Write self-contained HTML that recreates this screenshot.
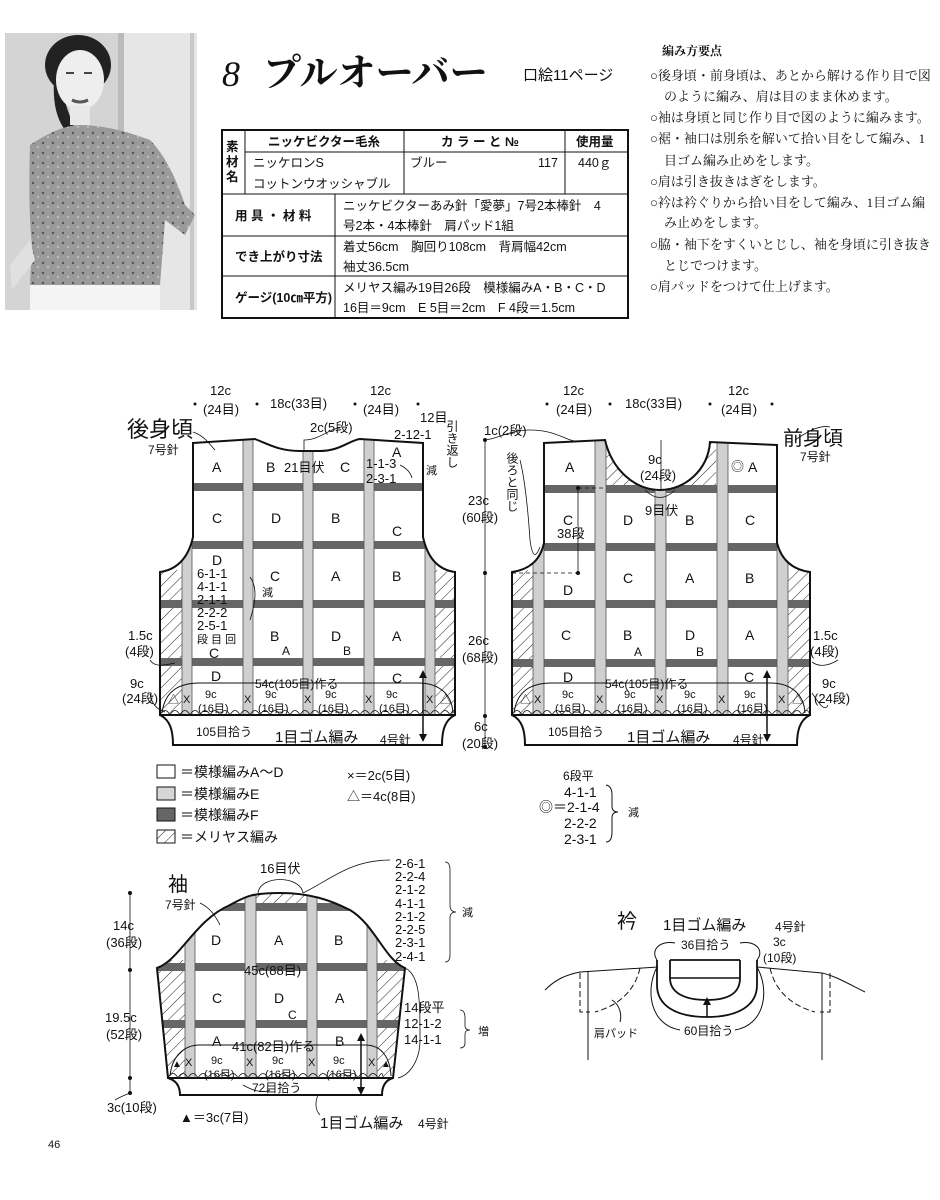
<!DOCTYPE html>
<html><head><meta charset="utf-8">
<style>
body{margin:0;background:#fff;}
svg{display:block}
.s{font-family:"Liberation Sans","Noto Sans CJK JP",sans-serif;fill:#111}
.r{font-family:"Liberation Serif","Noto Serif CJK SC",serif;fill:#111}
</style></head><body>
<svg width="940" height="1200" viewBox="0 0 940 1200" xmlns="http://www.w3.org/2000/svg">
<defs>
<pattern id="h" width="8" height="8" patternUnits="userSpaceOnUse" patternTransform="rotate(45)"><line x1="0" y1="0" x2="0" y2="8" stroke="#222" stroke-width="1"/></pattern>
<pattern id="k" width="10" height="10" patternUnits="userSpaceOnUse"><rect width="10" height="10" fill="#9a9a9a"/><circle cx="3" cy="3" r="1.2" fill="#555"/><circle cx="8" cy="7" r="1.2" fill="#bbb"/></pattern>
<clipPath id="cb"><path d="M193,443 L255,439 C270,445 280,451 300,451 L320,451 C340,451 350,440 360,439 L423,443 L423,537 C428,560 440,570 455,572 L455,715 L160,715 L160,572 C175,570 188,560 193,537 Z"/></clipPath>
<clipPath id="cf"><path d="M544,443 L605,440 C612,470 635,490 660,490 C685,490 708,470 710,442 L777,445 L777,543 C782,562 795,570 810,572 L810,715 L512,715 L512,572 C527,570 540,562 544,543 Z"/></clipPath>
<clipPath id="cs"><path d="M157,968 C180,960 195,920 230,905 C245,897 250,893 280,893 C310,893 330,900 350,910 C375,925 385,960 405,968 L393,1078 L168,1078 Z"/></clipPath>
</defs>
<rect width="940" height="1200" fill="#fff"/>

<!-- photo -->
<rect x="5" y="33" width="192" height="277" fill="#d4d4d4"/>
<rect x="120" y="33" width="77" height="277" fill="#e6e6e6"/>
<rect x="118" y="33" width="6" height="140" fill="#bbb"/>
<rect x="190" y="33" width="4" height="277" fill="#c8c8c8"/>
<ellipse cx="78" cy="65" rx="33" ry="30" fill="#222"/>
<path d="M55,70 Q50,110 65,130 L75,128 Q62,100 62,80Z" fill="#222"/>
<ellipse cx="80" cy="80" rx="24" ry="30" fill="#eee"/>
<path d="M66,73 h8 M84,73 h8" stroke="#444" stroke-width="2"/>
<path d="M72,100 Q80,104 88,100" stroke="#555" stroke-width="3" fill="none"/>
<rect x="70" y="105" width="20" height="20" fill="#e8e8e8"/>
<path d="M30,145 Q60,125 80,125 Q110,125 150,140 Q170,160 185,205 L195,215 L185,235 L165,220 L160,285 L30,285 L32,245 Q28,210 30,145Z" fill="url(#k)"/>
<path d="M30,240 L10,265 L12,290 L35,260Z" fill="#e0e0e0"/>
<rect x="30" y="285" width="130" height="25" fill="#f4f4f4"/>

<!-- title -->
<text x="222" y="86" class="r" font-size="36" font-style="italic">8</text>
<text x="263" y="86" class="r" font-size="38" font-weight="bold">プルオーバー</text>
<text x="523" y="80" class="s" font-size="15">口絵11ページ</text>

<!-- table -->
<g stroke="#111" fill="none">
<rect x="222" y="130" width="406" height="188" stroke-width="2"/>
<line x1="245" y1="130" x2="245" y2="194"/>
<line x1="404" y1="130" x2="404" y2="194"/>
<line x1="565" y1="130" x2="565" y2="194"/>
<line x1="245" y1="152" x2="628" y2="152"/>
<line x1="222" y1="194" x2="628" y2="194"/>
<line x1="222" y1="236" x2="628" y2="236"/>
<line x1="222" y1="276" x2="628" y2="276"/>
<line x1="335" y1="194" x2="335" y2="318"/>
</g>
<g class="s" font-size="12.5">
<text x="226" y="151" font-weight="bold">素</text><text x="226" y="166" font-weight="bold">材</text><text x="226" y="181" font-weight="bold">名</text>
<text x="268" y="146" font-weight="bold">ニッケビクター毛糸</text>
<text x="441" y="146" font-weight="bold">カ ラ ー と №</text>
<text x="576" y="146" font-weight="bold">使用量</text>
<text x="253" y="167">ニッケロンS</text>
<text x="253" y="188">コットンウオッシャブル</text>
<text x="410" y="167">ブルー</text>
<text x="538" y="167">117</text>
<text x="578" y="167">440ｇ</text>
<text x="235" y="220" font-weight="bold">用 具 ・ 材 料</text>
<text x="235" y="261" font-weight="bold">でき上がり寸法</text>
<text x="235" y="302" font-weight="bold">ゲージ(10㎝平方)</text>
<text x="343" y="210">ニッケビクターあみ針「愛夢」7号2本棒針　4</text>
<text x="343" y="230">号2本・4本棒針　肩パッド1組</text>
<text x="343" y="251">着丈56cm　胸回り108cm　背肩幅42cm</text>
<text x="343" y="271">袖丈36.5cm</text>
<text x="343" y="292">メリヤス編み19目26段　模様編みA・B・C・D</text>
<text x="343" y="312">16目＝9cm　E 5目＝2cm　F 4段＝1.5cm</text>
</g>

<!-- instructions -->
<g class="r" font-size="13">
<text x="662" y="55" font-size="12" font-weight="bold">編み方要点</text>
<text x="650" y="80">○後身頃・前身頃は、あとから解ける作り目で図</text>
<text x="664" y="101">のように編み、肩は目のまま休めます。</text>
<text x="650" y="122">○袖は身頃と同じ作り目で図のように編みます。</text>
<text x="650" y="143">○裾・袖口は別糸を解いて拾い目をして編み、1</text>
<text x="664" y="165">目ゴム編み止めをします。</text>
<text x="650" y="186">○肩は引き抜きはぎをします。</text>
<text x="650" y="207">○衿は衿ぐりから拾い目をして編み、1目ゴム編</text>
<text x="664" y="227">み止めをします。</text>
<text x="650" y="249">○脇・袖下をすくいとじし、袖を身頃に引き抜き</text>
<text x="664" y="270">とじでつけます。</text>
<text x="650" y="291">○肩パッドをつけて仕上げます。</text>
</g>

<!-- BACK BODY -->
<g clip-path="url(#cb)">
<rect x="150" y="570" width="32" height="150" fill="url(#h)"/>
<rect x="435" y="570" width="25" height="150" fill="url(#h)"/>
<g fill="#666"><rect x="150" y="483" width="320" height="8"/><rect x="150" y="541" width="320" height="8"/><rect x="150" y="600" width="320" height="8"/><rect x="150" y="658" width="320" height="8"/></g>
<g fill="#cfcfcf" stroke="#555" stroke-width="0.8"><rect x="182" y="430" width="10" height="290"/><rect x="243" y="430" width="10" height="290"/><rect x="303" y="430" width="10" height="290"/><rect x="364" y="430" width="10" height="290"/><rect x="425" y="430" width="10" height="290"/></g>
</g>
<path d="M193,443 L255,439 C270,445 280,451 300,451 L320,451 C340,451 350,440 360,439 L423,443 L423,537 C428,560 440,570 455,572 L455,715 L160,715 L160,572 C175,570 188,560 193,537 Z" fill="none" stroke="#111" stroke-width="2"/>
<path d="M160,715 C170,720 173,730 173,745 L442,745 C442,730 445,720 455,715" fill="none" stroke="#111" stroke-width="2"/>
<path d="M162,713 C165,690 180,683 200,683 L418,683 C440,683 452,695 453,713" fill="none" stroke="#111"/>
<path d="M160,715 q5,-9 10,0 q5,-9 10,0 q5,-9 10,0 q5,-9 10,0 q5,-9 10,0 q5,-9 10,0 q5,-9 10,0 q5,-9 10,0 q5,-9 10,0 q5,-9 10,0 q5,-9 10,0 q5,-9 10,0 q5,-9 10,0 q5,-9 10,0 q5,-9 10,0 q5,-9 10,0 q5,-9 10,0 q5,-9 10,0 q5,-9 10,0 q5,-9 10,0 q5,-9 10,0 q5,-9 10,0 q5,-9 10,0 q5,-9 10,0 q5,-9 10,0 q5,-9 10,0 q5,-9 10,0 q5,-9 10,0 q5,-9 10,0 q5,-9 5,0" fill="none" stroke="#111" stroke-width="0.8"/>
<line x1="423" y1="672" x2="423" y2="740" stroke="#111" stroke-width="1.5"/>
<path d="M419,678 L423,670 L427,678Z M419,734 L423,742 L427,734Z" fill="#111"/>
<g class="s" font-size="14">
<text x="212" y="472">A</text><text x="266" y="472">B</text><text x="340" y="472">C</text><text x="392" y="457">A</text>
<text x="212" y="523">C</text><text x="271" y="523">D</text><text x="331" y="523">B</text><text x="392" y="536">C</text>
<text x="212" y="565">D</text><text x="270" y="581">C</text><text x="331" y="581">A</text><text x="392" y="581">B</text>
<text x="270" y="641">B</text><text x="331" y="641">D</text><text x="392" y="641">A</text>
<text x="209" y="658">C</text><text x="211" y="681">D</text><text x="392" y="683">C</text>
<text x="282" y="655" font-size="12">A</text><text x="343" y="655" font-size="12">B</text>
</g>
<g class="s" font-size="13">
<text x="197" y="578">6-1-1</text><text x="197" y="591">4-1-1</text><text x="197" y="604">2-1-1</text><text x="197" y="617">2-2-2</text><text x="197" y="630">2-5-1</text><text x="197" y="643" font-size="11">段 目 回</text>
<text x="262" y="596" font-size="11">減</text>
<text x="255" y="688" font-size="12">54c(105目)作る</text>
<text x="205" y="698" font-size="11">9c</text><text x="198" y="712" font-size="11">(16目)</text>
<text x="265" y="698" font-size="11">9c</text><text x="258" y="712" font-size="11">(16目)</text>
<text x="325" y="698" font-size="11">9c</text><text x="318" y="712" font-size="11">(16目)</text>
<text x="386" y="698" font-size="11">9c</text><text x="379" y="712" font-size="11">(16目)</text>
<text x="168" y="703" font-size="11">△</text><text x="183" y="703" font-size="11">X</text><text x="244" y="703" font-size="11">X</text><text x="304" y="703" font-size="11">X</text><text x="365" y="703" font-size="11">X</text><text x="426" y="703" font-size="11">X</text><text x="440" y="703" font-size="11">△</text>
<text x="196" y="736" font-size="12">105目拾う</text>
<text x="275" y="742" font-size="15">1目ゴム編み</text>
<text x="380" y="744" font-size="12">4号針</text>
<text x="128" y="640">1.5c</text><text x="125" y="656">(4段)</text>
<text x="130" y="688">9c</text><text x="122" y="703">(24段)</text>
<text x="210" y="395">12c</text><text x="203" y="414">(24目)</text>
<text x="270" y="408">18c(33目)</text>
<text x="370" y="395">12c</text><text x="363" y="414">(24目)</text>
<text x="420" y="422">12目</text>
<text x="394" y="439">2-12-1</text>
<text x="310" y="432">2c(5段)</text>
<text x="284" y="472">21目伏</text>
<text x="366" y="468">1-1-3</text><text x="366" y="483">2-3-1</text>
<text x="426" y="474" font-size="11">減</text>
</g>
<g fill="#111"><circle cx="195" cy="404" r="1.5"/><circle cx="257" cy="404" r="1.5"/><circle cx="355" cy="404" r="1.5"/><circle cx="418" cy="404" r="1.5"/>
<circle cx="547" cy="404" r="1.5"/><circle cx="610" cy="404" r="1.5"/><circle cx="710" cy="404" r="1.5"/><circle cx="772" cy="404" r="1.5"/></g>
<text x="452" y="420" class="s" font-size="12" writing-mode="tb">引き返し</text>
<text x="127" y="437" class="s" font-size="22">後身頃</text>
<text x="148" y="454" class="s" font-size="12">7号針</text>
<g stroke="#111" fill="none" stroke-width="0.8">
<path d="M193,432 C205,436 210,445 215,450"/>
<path d="M304,451 L304,440 C320,440 330,428 340,428"/>
<path d="M250,577 Q260,590 250,620"/>
<path d="M400,465 Q410,470 412,478"/>
<path d="M150,660 C155,668 165,665 175,663"/>
<path d="M150,694 C152,705 158,710 165,712"/>
</g>

<!-- FRONT BODY -->
<g clip-path="url(#cf)">
<rect x="505" y="570" width="28" height="150" fill="url(#h)"/>
<rect x="787" y="570" width="28" height="150" fill="url(#h)"/>
<rect x="606" y="430" width="110" height="62" fill="url(#h)"/>
<g fill="#666"><rect x="500" y="485" width="320" height="8"/><rect x="500" y="543" width="320" height="8"/><rect x="500" y="600" width="320" height="8"/><rect x="500" y="659" width="320" height="8"/></g>
<g fill="#cfcfcf" stroke="#555" stroke-width="0.8"><rect x="533" y="430" width="11" height="290"/><rect x="595" y="430" width="11" height="290"/><rect x="655" y="430" width="11" height="290"/><rect x="717" y="430" width="11" height="290"/><rect x="777" y="430" width="11" height="290"/></g>
</g>
<path d="M544,443 L605,440 C612,470 635,490 660,490 C685,490 708,470 710,442 L777,445 L777,543 C782,562 795,570 810,572 L810,715 L512,715 L512,572 C527,570 540,562 544,543 Z" fill="none" stroke="#111" stroke-width="2"/>
<path d="M512,715 C522,720 525,730 525,745 L797,745 C797,730 800,720 810,715" fill="none" stroke="#111" stroke-width="2"/>
<path d="M514,713 C517,690 532,683 552,683 L770,683 C792,683 804,695 805,713" fill="none" stroke="#111"/>
<path d="M512,715 q5,-9 10,0 q5,-9 10,0 q5,-9 10,0 q5,-9 10,0 q5,-9 10,0 q5,-9 10,0 q5,-9 10,0 q5,-9 10,0 q5,-9 10,0 q5,-9 10,0 q5,-9 10,0 q5,-9 10,0 q5,-9 10,0 q5,-9 10,0 q5,-9 10,0 q5,-9 10,0 q5,-9 10,0 q5,-9 10,0 q5,-9 10,0 q5,-9 10,0 q5,-9 10,0 q5,-9 10,0 q5,-9 10,0 q5,-9 10,0 q5,-9 10,0 q5,-9 10,0 q5,-9 10,0 q5,-9 10,0 q5,-9 10,0 q5,-9 8,0" fill="none" stroke="#111" stroke-width="0.8"/>
<line x1="767" y1="672" x2="767" y2="740" stroke="#111" stroke-width="1.5"/>
<path d="M763,678 L767,670 L771,678Z M763,734 L767,742 L771,734Z" fill="#111"/>
<g stroke="#111" fill="none" stroke-width="0.8">
<line x1="485" y1="440" x2="485" y2="747"/>
<line x1="578" y1="488" x2="578" y2="573"/>
<line x1="512" y1="573" x2="578" y2="573" stroke-dasharray="4,3"/>
<line x1="578" y1="488" x2="605" y2="488" stroke-dasharray="4,3"/>
<line x1="661" y1="440" x2="661" y2="490"/>
<path d="M485,440 C500,438 510,430 530,430 C555,430 565,440 575,441"/>
<path d="M520,460 C525,480 528,510 530,540 C532,555 535,560 540,547"/>
<path d="M795,440 C810,430 820,425 830,427"/>
<path d="M812,662 C820,668 830,665 838,660"/>
<path d="M812,693 C820,705 825,712 828,705"/>
<path d="M645,490 Q660,505 675,490"/>
</g>
<g fill="#111"><circle cx="485" cy="440" r="2"/><circle cx="485" cy="573" r="2"/><circle cx="485" cy="716" r="2"/><circle cx="485" cy="747" r="2"/><circle cx="578" cy="488" r="2"/><circle cx="578" cy="573" r="2"/></g>
<g class="s" font-size="14">
<text x="565" y="472">A</text><text x="748" y="472">A</text><text x="731" y="471" font-size="13">◎</text>
<text x="563" y="525">C</text><text x="623" y="525">D</text><text x="685" y="525">B</text><text x="745" y="525">C</text>
<text x="563" y="595">D</text><text x="623" y="583">C</text><text x="685" y="583">A</text><text x="745" y="583">B</text>
<text x="561" y="640">C</text><text x="623" y="640">B</text><text x="685" y="640">D</text><text x="745" y="640">A</text>
<text x="563" y="682">D</text><text x="744" y="682">C</text>
<text x="634" y="656" font-size="12">A</text><text x="696" y="656" font-size="12">B</text>
</g>
<g class="s" font-size="13">
<text x="605" y="688" font-size="12">54c(105目)作る</text>
<text x="562" y="698" font-size="11">9c</text><text x="555" y="712" font-size="11">(16目)</text>
<text x="624" y="698" font-size="11">9c</text><text x="617" y="712" font-size="11">(16目)</text>
<text x="684" y="698" font-size="11">9c</text><text x="677" y="712" font-size="11">(16目)</text>
<text x="744" y="698" font-size="11">9c</text><text x="737" y="712" font-size="11">(16目)</text>
<text x="520" y="703" font-size="11">△</text><text x="534" y="703" font-size="11">X</text><text x="596" y="703" font-size="11">X</text><text x="656" y="703" font-size="11">X</text><text x="718" y="703" font-size="11">X</text><text x="778" y="703" font-size="11">X</text><text x="792" y="703" font-size="11">△</text>
<text x="548" y="736" font-size="12">105目拾う</text>
<text x="627" y="742" font-size="15">1目ゴム編み</text>
<text x="733" y="744" font-size="12">4号針</text>
<text x="813" y="640">1.5c</text><text x="810" y="656">(4段)</text>
<text x="822" y="688">9c</text><text x="814" y="703">(24段)</text>
<text x="563" y="395">12c</text><text x="556" y="414">(24目)</text>
<text x="625" y="408">18c(33目)</text>
<text x="728" y="395">12c</text><text x="721" y="414">(24目)</text>
<text x="484" y="435">1c(2段)</text>
<text x="468" y="505">23c</text><text x="462" y="522">(60段)</text>
<text x="468" y="645">26c</text><text x="462" y="662">(68段)</text>
<text x="474" y="731">6c</text><text x="462" y="748">(20段)</text>
<text x="648" y="464">9c</text><text x="640" y="480">(24段)</text>
<text x="645" y="515">9目伏</text>
<text x="557" y="538">38段</text>
</g>
<text x="512" y="452" class="s" font-size="12" writing-mode="tb">後ろと同じ</text>
<text x="783" y="445" class="s" font-size="20">前身頃</text>
<text x="800" y="461" class="s" font-size="12">7号針</text>

<!-- legend -->
<g stroke="#111" stroke-width="1">
<rect x="157" y="765" width="18" height="13" fill="#fff"/>
<rect x="157" y="787" width="18" height="13" fill="#d6d6d6"/>
<rect x="157" y="808" width="18" height="13" fill="#666"/>
<rect x="157" y="830" width="18" height="13" fill="url(#h)"/>
</g>
<g class="s" font-size="14">
<text x="180" y="777">＝模様編みA～D</text>
<text x="180" y="799">＝模様編みE</text>
<text x="180" y="820">＝模様編みF</text>
<text x="180" y="842">＝メリヤス編み</text>
<text x="347" y="780" font-size="13">×＝2c(5目)</text>
<text x="347" y="801" font-size="13">△＝4c(8目)</text>
<text x="563" y="780" font-size="12">6段平</text>
<text x="564" y="797">4-1-1</text>
<text x="539" y="812">◎＝2-1-4</text>
<text x="564" y="828">2-2-2</text>
<text x="564" y="844">2-3-1</text>
<text x="628" y="816" font-size="11">減</text>
</g>
<path d="M606,785 Q612,786 612,795 L612,806 Q612,812 618,812 Q612,812 612,818 L612,832 Q612,842 606,842" fill="none" stroke="#111"/>

<!-- SLEEVE -->
<g clip-path="url(#cs)">
<rect x="150" y="960" width="35" height="120" fill="url(#h)"/>
<rect x="377" y="960" width="35" height="120" fill="url(#h)"/>
<rect x="256" y="888" width="51" height="15" fill="url(#h)"/>
<g fill="#666"><rect x="150" y="903" width="260" height="8"/><rect x="150" y="963" width="260" height="8"/><rect x="150" y="1020" width="260" height="8"/></g>
<g fill="#cfcfcf" stroke="#555" stroke-width="0.8"><rect x="185" y="885" width="10" height="195"/><rect x="245" y="885" width="11" height="195"/><rect x="307" y="885" width="10" height="195"/><rect x="367" y="885" width="10" height="195"/></g>
</g>
<path d="M157,968 C180,960 195,920 230,905 C245,897 250,893 280,893 C310,893 330,900 350,910 C375,925 385,960 405,968 L393,1078 L168,1078 Z" fill="none" stroke="#111" stroke-width="2"/>
<path d="M168,1078 C175,1080 180,1085 180,1095 L382,1095 C382,1085 386,1080 393,1078" fill="none" stroke="#111" stroke-width="2"/>
<path d="M170,1076 C172,1055 185,1045 200,1045 L365,1045 C382,1045 390,1058 391,1076" fill="none" stroke="#111"/>
<path d="M168,1078 q5,-9 10,0 q5,-9 10,0 q5,-9 10,0 q5,-9 10,0 q5,-9 10,0 q5,-9 10,0 q5,-9 10,0 q5,-9 10,0 q5,-9 10,0 q5,-9 10,0 q5,-9 10,0 q5,-9 10,0 q5,-9 10,0 q5,-9 10,0 q5,-9 10,0 q5,-9 10,0 q5,-9 10,0 q5,-9 10,0 q5,-9 10,0 q5,-9 10,0 q5,-9 10,0 q5,-9 5,0" fill="none" stroke="#111" stroke-width="0.8"/>
<line x1="361" y1="1035" x2="361" y2="1093" stroke="#111" stroke-width="1.5"/>
<path d="M357,1041 L361,1033 L365,1041Z M357,1087 L361,1095 L365,1087Z" fill="#111"/>
<g stroke="#111" fill="none" stroke-width="0.8">
<line x1="130" y1="893" x2="130" y2="1093"/>
<path d="M258,893 C260,875 300,875 303,893"/>
<path d="M303,893 C330,880 350,860 390,860"/>
<path d="M405,968 C420,975 420,1000 420,1040 C420,1060 410,1075 398,1078"/>
<path d="M200,903 C210,908 215,915 220,925"/>
<path d="M130,1093 C125,1095 118,1098 115,1100"/>
<path d="M243,1085 C255,1092 265,1093 270,1090"/>
<path d="M318,1095 C315,1102 315,1110 320,1115"/>
<path d="M445,862 Q450,862 450,870 L450,905 Q450,912 456,912 Q450,912 450,918 L450,955 Q450,962 445,962"/>
<path d="M460,1010 Q465,1010 465,1018 L465,1026 Q465,1030 470,1030 Q465,1030 465,1034 L465,1043 Q465,1048 460,1048"/>
</g>
<g fill="#111"><circle cx="130" cy="893" r="2"/><circle cx="130" cy="970" r="2"/><circle cx="130" cy="1078" r="2"/><circle cx="130" cy="1093" r="2"/></g>
<g class="s" font-size="14">
<text x="211" y="945">D</text><text x="274" y="945">A</text><text x="334" y="945">B</text>
<text x="212" y="1003">C</text><text x="274" y="1003">D</text><text x="335" y="1003">A</text>
<text x="212" y="1046">A</text><text x="335" y="1046">B</text><text x="288" y="1019" font-size="12">C</text>
</g>
<g class="s" font-size="13">
<text x="244" y="975">45c(88目)</text>
<text x="232" y="1051">41c(82目)作る</text>
<text x="211" y="1064" font-size="11">9c</text><text x="204" y="1078" font-size="11">(16目)</text>
<text x="272" y="1064" font-size="11">9c</text><text x="265" y="1078" font-size="11">(16目)</text>
<text x="333" y="1064" font-size="11">9c</text><text x="326" y="1078" font-size="11">(16目)</text>
<text x="172" y="1067" font-size="10">▲</text><text x="185" y="1066" font-size="11">X</text><text x="246" y="1066" font-size="11">X</text><text x="308" y="1066" font-size="11">X</text><text x="368" y="1066" font-size="11">X</text><text x="381" y="1067" font-size="10">▲</text>
<text x="252" y="1092" font-size="12">72目拾う</text>
<text x="320" y="1128" font-size="15">1目ゴム編み</text><text x="418" y="1128" font-size="12">4号針</text>
<text x="180" y="1122">▲＝3c(7目)</text>
<text x="260" y="873">16目伏</text>
<text x="113" y="930">14c</text><text x="106" y="947">(36段)</text>
<text x="105" y="1022">19.5c</text><text x="106" y="1039">(52段)</text>
<text x="107" y="1112">3c(10段)</text>
<text x="395" y="868">2-6-1</text><text x="395" y="881">2-2-4</text><text x="395" y="894">2-1-2</text><text x="395" y="908">4-1-1</text><text x="395" y="921">2-1-2</text><text x="395" y="934">2-2-5</text><text x="395" y="947">2-3-1</text><text x="395" y="961">2-4-1</text>
<text x="462" y="916" font-size="11">減</text>
<text x="404" y="1012">14段平</text>
<text x="404" y="1028">12-1-2</text>
<text x="404" y="1044">14-1-1</text>
<text x="478" y="1035" font-size="11">増</text>
</g>
<text x="168" y="891" class="s" font-size="20">袖</text>
<text x="165" y="909" class="s" font-size="12">7号針</text>

<!-- COLLAR -->
<g stroke="#111" fill="none" stroke-width="1">
<path d="M545,990 C555,980 565,975 580,972 L658,967"/>
<path d="M757,967 L822,973 C835,976 845,982 865,992"/>
<line x1="588" y1="972" x2="588" y2="1060"/>
<line x1="822" y1="973" x2="822" y2="1060"/>
<path d="M580,973 L580,1012 L590,1012" stroke-dasharray="6,3"/>
<path d="M830,973 L830,1012 L820,1012" stroke-dasharray="6,3"/>
<path d="M640,968 C635,990 620,1005 595,1012" stroke-dasharray="6,3"/>
<path d="M770,968 C775,990 790,1005 815,1012" stroke-dasharray="6,3"/>
<path d="M657,960 L657,985 C657,1005 675,1017 707,1017 C739,1017 757,1005 757,985 L757,960" stroke-width="1.8"/>
<path d="M670,960 L670,978 C670,993 685,1000 707,1000 C729,1000 740,993 740,978 L740,960" stroke-width="1.8"/>
<line x1="670" y1="960" x2="740" y2="960" stroke-width="1.8"/>
<line x1="670" y1="978" x2="740" y2="978" stroke-width="1.5"/>
<line x1="707" y1="1017" x2="707" y2="1003" stroke-width="1.5"/>
<path d="M657,960 C650,950 660,940 675,943"/>
<path d="M740,943 C755,940 765,950 757,960"/>
<path d="M657,967 C645,990 650,1025 680,1030"/>
<path d="M757,967 C770,990 765,1025 735,1030"/>
<path d="M612,1000 C620,1005 622,1015 620,1022"/>
</g>
<path d="M703,1005 L707,997 L711,1005Z" fill="#111"/>
<g class="s">
<text x="617" y="928" font-size="20">衿</text>
<text x="663" y="930" font-size="15">1目ゴム編み</text>
<text x="775" y="931" font-size="12">4号針</text>
<text x="681" y="949" font-size="12">36目拾う</text>
<text x="773" y="946" font-size="12">3c</text>
<text x="763" y="962" font-size="12">(10段)</text>
<text x="684" y="1035" font-size="12">60目拾う</text>
<text x="594" y="1037" font-size="11">肩パッド</text>
<text x="48" y="1148" font-size="11">46</text>
</g>
</svg>
</body></html>
